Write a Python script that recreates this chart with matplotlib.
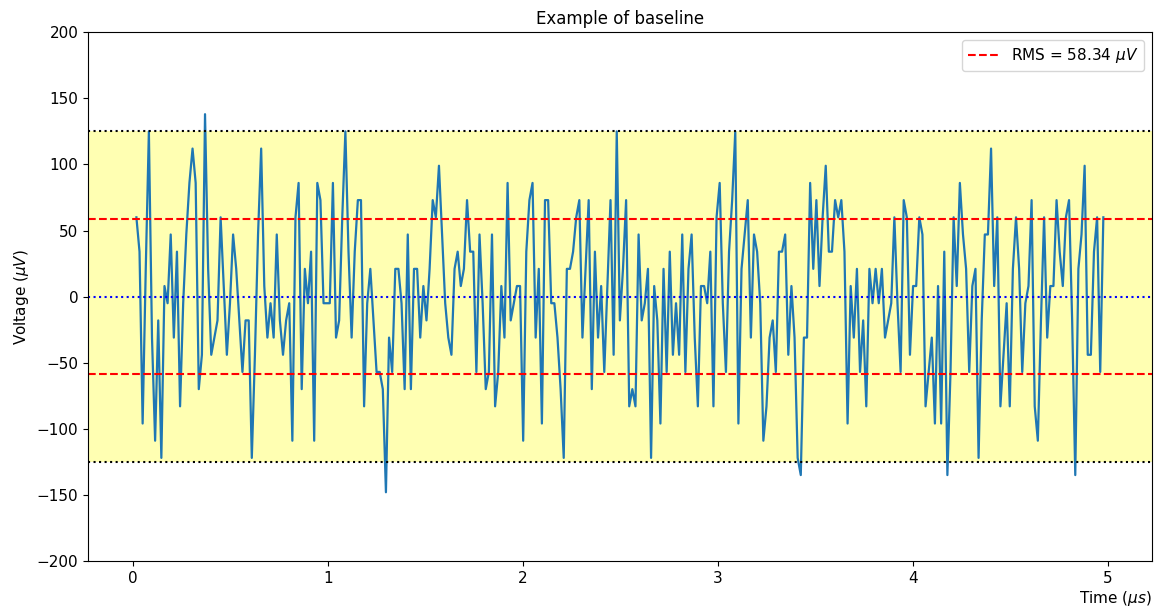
import numpy as np
import matplotlib
matplotlib.use("Agg")
import matplotlib.pyplot as plt

sample_step_us = 0.016
voltage_uV = [
    60, 34, -96, 21, 125, -31, -109, -18, -122, 8,
    -5, 47, -31, 34, -83, -5, 47, 86, 112, 86,
    -70, -44, 138, 21, -44, -31, -18, 60, 8, -44,
    -5, 47, 21, -18, -57, -18, -18, -122, -44, 47,
    112, 8, -31, -5, -31, 47, -18, -44, -18, -5,
    -109, 60, 86, -70, 21, -5, 34, -109, 86, 73,
    -5, -5, -5, 86, -31, -18, 60, 125, 34, -31,
    34, 73, 73, -83, -5, 21, -18, -57, -57, -70,
    -148, -31, -57, 21, 21, -5, -70, 47, -70, 21,
    21, -31, 8, -18, 21, 73, 60, 99, 47, -5,
    -31, -44, 21, 34, 8, 21, 73, 34, 34, -57,
    47, -5, -70, -57, 47, -83, -57, 8, -31, 86,
    -18, -5, 8, 8, -109, 34, 73, 86, -31, 21,
    -96, 73, 73, -5, -5, -31, -70, -122, 21, 21,
    34, 60, 73, -31, 21, 73, -70, 34, -31, 8,
    -57, 8, 73, -44, 125, -18, 21, 73, -83, -70,
    -83, 47, -18, -5, 21, -122, 8, -18, -96, 21,
    -57, 34, -44, -5, -44, 47, -57, 21, 47, -31,
    -83, 8, 8, -5, 34, -83, 60, 86, -5, -57,
    34, 73, 125, -96, 21, 47, 73, -31, 47, 34,
    -5, -109, -83, -31, -18, -57, 34, 34, 47, -44,
    8, -31, -122, -135, -31, -31, 86, 21, 73, 8,
    60, 99, 34, 34, 73, 60, 73, 34, -96, 8,
    -31, 21, -57, -18, -83, 21, -5, 21, -5, 21,
    -31, -18, -5, 60, -5, -57, 73, 60, -44, 8,
    8, 60, 47, -83, -57, -31, -96, 8, -96, 34,
    -135, -57, 60, 8, 86, 47, 21, -57, 8, 21,
    -122, -18, 47, 47, 112, 8, 60, -83, -44, -5,
    -83, 21, 60, 21, -57, -5, 8, 73, -83, -109,
    -18, 60, -31, 8, 8, 73, 34, 8, 60, 73,
    -18, -135, 21, 47, 99, -44, -44, 34, 60, -57,
    60,
]
rms_uV = 58.34
threshold_uV = 125

time_us = sample_step_us * np.arange(1, len(voltage_uV) + 1)

fig = plt.figure(figsize=(11.54, 6.08), dpi=100)
ax = fig.add_axes([0.0763, 0.0773, 0.9217, 0.8697])

ax.axhspan(-threshold_uV, threshold_uV, color="yellow", alpha=0.3, lw=0)
ax.plot(time_us, voltage_uV, color="#1f77b4", lw=1.6)
ax.axhline(rms_uV, color="red", ls="--", lw=1.5, label=r"RMS = %.2f $\mu V$" % rms_uV)
ax.axhline(-rms_uV, color="red", ls="--", lw=1.5)
ax.axhline(0, color="blue", ls=":", lw=1.5)
ax.axhline(threshold_uV, color="black", ls=":", lw=1.5)
ax.axhline(-threshold_uV, color="black", ls=":", lw=1.5)

ax.set_ylim(-200, 200)
ax.set_yticks(np.arange(-200, 201, 50))
ax.set_title("Example of baseline", fontsize=12)
ax.set_ylabel(r"Voltage ($\mu V$)", fontsize=11)
ax.set_xlabel(r"Time ($\mu s$)", fontsize=11, loc="right", labelpad=2)
ax.tick_params(labelsize=11)
ax.legend(loc="upper right", fontsize=11)

fig.savefig("out.png", dpi=100)
